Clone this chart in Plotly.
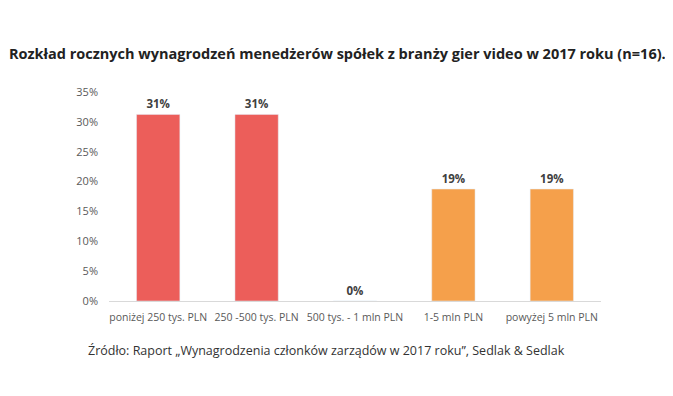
import plotly.graph_objects as go

categories = ["poniżej 250 tys. PLN", "250 -500 tys. PLN", "500 tys. - 1 mln PLN", "1-5 mln PLN", "powyżej 5 mln PLN"]
values = [31.25, 31.25, 0, 18.75, 18.75]
colors = ["#EC5E5A", "#EC5E5A", "#EC5E5A", "#F5A04B", "#F5A04B"]
tick_vals = [0, 5, 10, 15, 20, 25, 30, 35]
tick_text = [f"{v}%" for v in tick_vals]
title = "Rozkład rocznych wynagrodzeń menedżerów spółek z branży gier video w 2017 roku (n=16)."
source = "Źródło: Raport „Wynagrodzenia członków zarządów w 2017 roku”, Sedlak & Sedlak"

fig = go.Figure(go.Bar(
    x=categories, y=values, marker_color=colors,
    text=[f"{v:.0f}%" for v in values], textposition="outside",
    textfont=dict(family="Open Sans", size=11.5, color="#404040", weight="bold"),
    cliponaxis=False, width=0.44,
))

fig.update_layout(
    width=665, height=388,
    margin=dict(l=101, r=72, t=84, b=95),
    paper_bgcolor="white", plot_bgcolor="white",
    showlegend=False,
    font=dict(family="Open Sans", color="#595959", size=11),
)
fig.update_yaxes(range=[0, 35], tickvals=tick_vals, ticktext=tick_text, showgrid=False,
                 zeroline=False, showline=False, ticks="", ticklabelstandoff=10,
                 tickfont=dict(size=11, color="#595959"))
fig.update_xaxes(showline=True, linecolor="#D9D9D9", linewidth=1, ticks="",
                 ticklabelstandoff=6, tickfont=dict(size=10.5, color="#595959"))

fig.add_annotation(text=f"<b>{title}</b>", xref="paper", yref="paper", x=0.4654, y=1.0,
                   xanchor="center", yanchor="middle", yshift=39, showarrow=False,
                   font=dict(family="Open Sans", size=14.5, color="#222222"))
fig.add_annotation(text=source, xref="paper", yref="paper", x=0.443, y=0,
                   xanchor="center", yanchor="middle", yshift=-49, showarrow=False,
                   font=dict(family="Open Sans", size=12.5, color="#333333"))

fig.write_html("out.html")
